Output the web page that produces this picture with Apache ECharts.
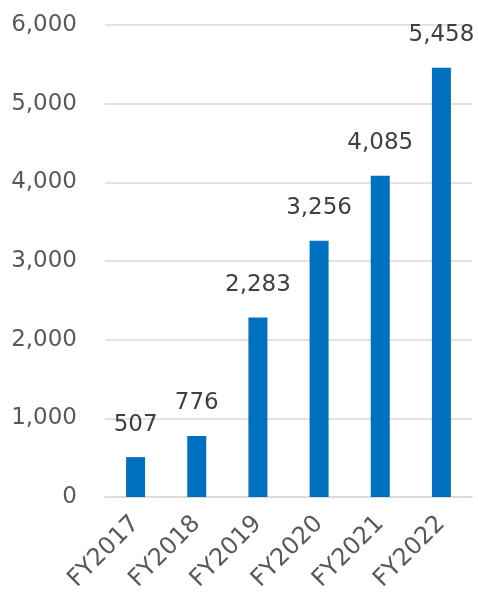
<!DOCTYPE html>
<html><head><meta charset="utf-8">
<script src="https://cdn.jsdelivr.net/npm/echarts@6/dist/echarts.min.js"></script>
<style>html,body{margin:0;padding:0;background:#fff}#c{width:478px;height:596px}</style>
</head><body><div id="c"></div>
<script>
var categories = ['FY2017','FY2018','FY2019','FY2020','FY2021','FY2022'];
var values = [507, 776, 2283, 3256, 4085, 5458];
var yTicks = [0, 1000, 2000, 3000, 4000, 5000, 6000];

var chart = echarts.init(document.getElementById('c'), null, {renderer:'canvas'});
var font = '"DejaVu Sans", Verdana, sans-serif';
chart.setOption({
  animation: false,
  backgroundColor: '#ffffff',
  grid: {left: 105, right: 6, top: 25, bottom: 99, containLabel: false},
  xAxis: {
    type: 'category', data: categories,
    axisLine: {show: true, lineStyle: {color: '#d9d9d9', width: 1.5}},
    axisTick: {show: false},
    axisLabel: {rotate: 45, margin: 23, color: '#595959', fontSize: 24, fontFamily: font}
  },
  yAxis: {
    type: 'value', min: yTicks[0], max: yTicks[yTicks.length-1], interval: 1000,
    axisLine: {show: false}, axisTick: {show: false},
    splitLine: {lineStyle: {color: '#d9d9d9', width: 1.5}},
    axisLabel: {margin: 28, color: '#595959', fontSize: 23, fontFamily: font,
      formatter: function(v){ return v.toLocaleString('en-US'); }}
  },
  series: [{
    type: 'bar', data: values, barWidth: 19,
    itemStyle: {color: '#0070C0'},
    label: {show: true, position: 'top', distance: 21, color: '#404040', fontSize: 23, fontFamily: font,
      formatter: function(p){ return p.value.toLocaleString('en-US'); }}
  }]
});
</script></body></html>
